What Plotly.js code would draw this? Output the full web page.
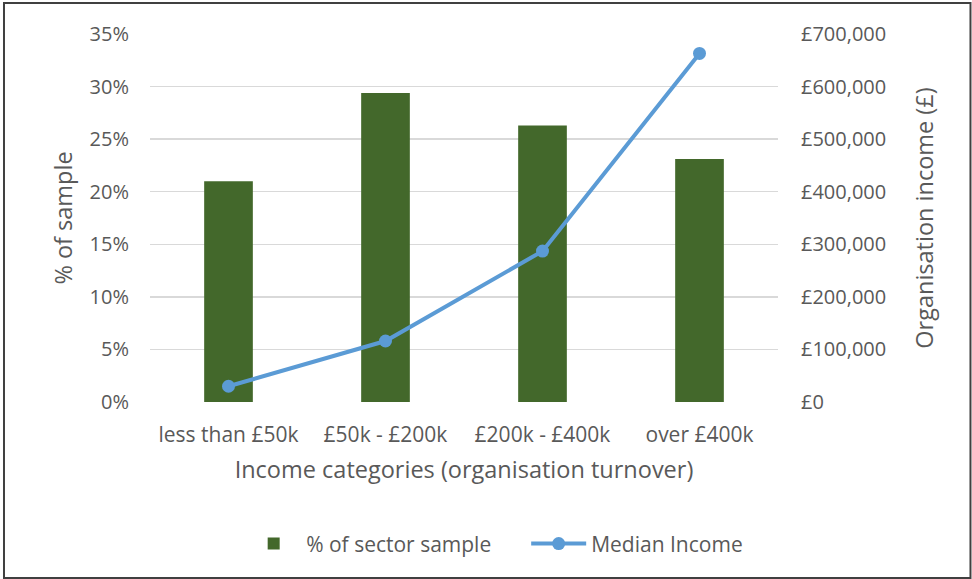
<!DOCTYPE html>
<html>
<head>
<meta charset="utf-8">
<script src="https://cdn.plot.ly/plotly-3.0.1.min.js"></script>
<style>
  html, body { margin: 0; padding: 0; background: #fff; }
  #chart { width: 972px; height: 579px; }
</style>
</head>
<body>
<div id="chart"></div>
<script>
const categories = ["less than £50k", "£50k - £200k", "£200k - £400k", "over £400k"];
const sectorSharePct = [0.210, 0.294, 0.263, 0.231];
const medianIncome = [30000, 116000, 287000, 663000];
const leftTicks = [0, 0.05, 0.10, 0.15, 0.20, 0.25, 0.30, 0.35];
const rightTicks = [0, 100000, 200000, 300000, 400000, 500000, 600000, 700000];
const rightTickLabels = rightTicks.map(v => "£" + v.toLocaleString("en-GB"));

const fontFam = "'Open Sans', 'Noto Sans', sans-serif";
const textCol = "#595959";

const traces = [
  {
    type: "bar",
    name: "% of sector sample",
    x: categories,
    y: sectorSharePct,
    marker: { color: "#43682B" },
    width: 0.31,
    yaxis: "y"
  },
  {
    type: "scatter",
    mode: "lines+markers",
    name: "Median Income",
    x: categories,
    y: medianIncome,
    yaxis: "y2",
    line: { color: "#5B9BD5", width: 4 },
    marker: { color: "#5B9BD5", size: 13 }
  }
];

const layout = {
  width: 972,
  height: 579,
  margin: { l: 150, r: 194, t: 34, b: 177 },
  paper_bgcolor: "#ffffff",
  plot_bgcolor: "#ffffff",
  font: { family: fontFam, color: textCol, size: 19 },
  showlegend: true,
  legend: {
    orientation: "h",
    x: 0.599, xanchor: "center",
    y: -0.33, yanchor: "top",
    font: { size: 21, color: textCol },
    itemwidth: 55,
    entrywidth: 215
  },
  xaxis: {
    type: "category",
    showgrid: false,
    zeroline: false,
    showline: false,
    ticks: "",
    ticklabelstandoff: 18,
    tickfont: { size: 21, color: textCol },
    title: { text: "Income categories (organisation turnover)", font: { size: 23.5, color: textCol }, standoff: 14 }
  },
  yaxis: {
    range: [0, 0.35],
    tickvals: leftTicks,
    tickformat: ".0%",
    showgrid: true,
    gridcolor: "#D9D9D9",
    gridwidth: 1.5,
    zeroline: false,
    showline: false,
    ticks: "",
    ticklabelstandoff: 20,
    tickfont: { size: 20, color: textCol },
    title: { text: "% of sample", font: { size: 23.5, color: textCol }, standoff: 10 }
  },
  yaxis2: {
    overlaying: "y",
    side: "right",
    range: [0, 700000],
    tickvals: rightTicks,
    ticktext: rightTickLabels,
    showgrid: false,
    zeroline: false,
    showline: false,
    ticks: "",
    ticklabelstandoff: 22,
    tickfont: { size: 20, color: textCol },
    title: { text: "Organisation income (£)", font: { size: 23.5, color: textCol }, standoff: 31 }
  },
  shapes: [
    {
      type: "rect", xref: "paper", yref: "paper",
      x0: -0.2325, x1: 1.3065, y0: -0.478, y1: 1.084,
      line: { color: "#404040", width: 2 },
      fillcolor: "rgba(0,0,0,0)",
      layer: "below"
    }
  ]
};

Plotly.newPlot("chart", traces, layout, { displayModeBar: false, staticPlot: true });
</script>
</body>
</html>
